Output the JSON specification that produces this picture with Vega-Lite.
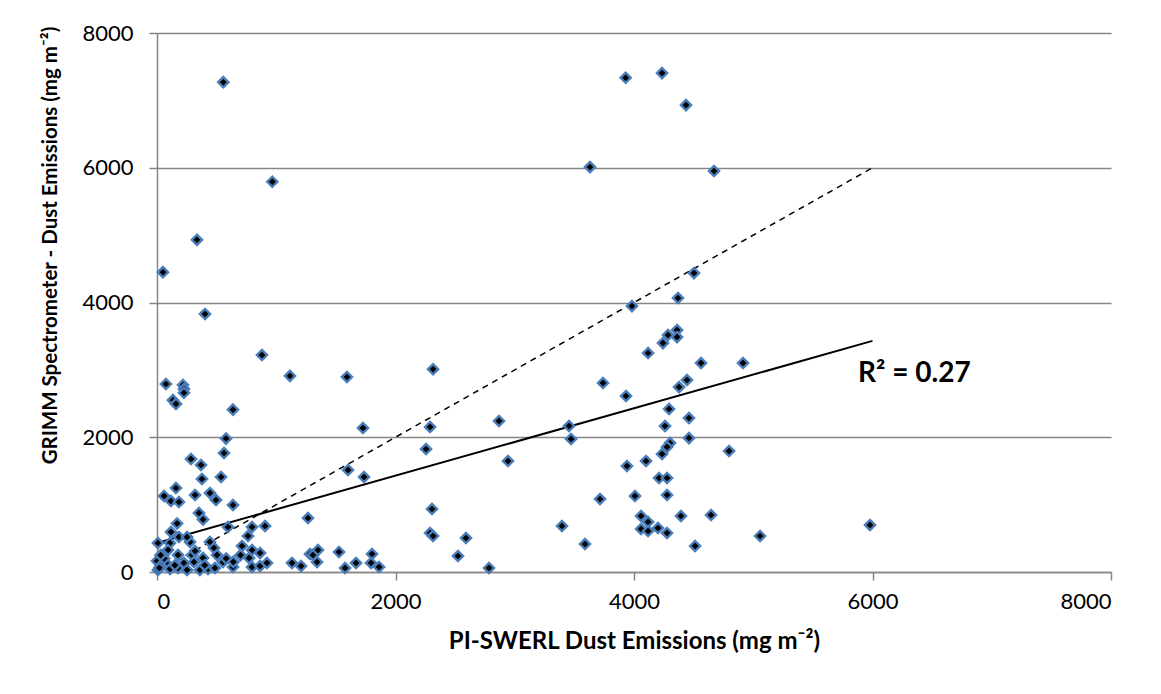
{
  "$schema": "https://vega.github.io/schema/vega-lite/v6.json",
  "width": 954,
  "height": 539,
  "autosize": {"type": "none"},
  "padding": {"left": 157, "top": 33, "right": 50, "bottom": 122},
  "background": "white",
  "config": {"view": {"stroke": null}, "font": "Lato"},
  "datasets": {
    "pts": [
      {"x": 556, "y": 7270}, {"x": 967, "y": 5792}, {"x": 335, "y": 4930}, {"x": 50, "y": 4450}, {"x": 403, "y": 3830},
      {"x": 880, "y": 3220}, {"x": 1115, "y": 2910}, {"x": 1593, "y": 2895}, {"x": 2315, "y": 3010},
      {"x": 3930, "y": 7335}, {"x": 4235, "y": 7405}, {"x": 4436, "y": 6930}, {"x": 3631, "y": 6010}, {"x": 4671, "y": 5951},
      {"x": 4503, "y": 4437}, {"x": 4369, "y": 4066}, {"x": 3983, "y": 3947},
      {"x": 4361, "y": 3591}, {"x": 4285, "y": 3517}, {"x": 4243, "y": 3398}, {"x": 4361, "y": 3487}, {"x": 4118, "y": 3250},
      {"x": 4562, "y": 3102}, {"x": 4914, "y": 3102}, {"x": 4444, "y": 2849}, {"x": 4378, "y": 2745},
      {"x": 3740, "y": 2805}, {"x": 3933, "y": 2612},
      {"x": 4294, "y": 2419}, {"x": 4260, "y": 2167}, {"x": 4461, "y": 2285}, {"x": 4461, "y": 1988},
      {"x": 4302, "y": 1914}, {"x": 4277, "y": 1855}, {"x": 4235, "y": 1751}, {"x": 4797, "y": 1796},
      {"x": 4101, "y": 1647}, {"x": 3941, "y": 1573}, {"x": 4210, "y": 1395}, {"x": 4277, "y": 1395},
      {"x": 4277, "y": 1143}, {"x": 4008, "y": 1128}, {"x": 3715, "y": 1083},
      {"x": 4059, "y": 831}, {"x": 4118, "y": 742}, {"x": 4394, "y": 831}, {"x": 4646, "y": 846},
      {"x": 4059, "y": 638}, {"x": 4118, "y": 608}, {"x": 4201, "y": 653}, {"x": 4277, "y": 579},
      {"x": 3396, "y": 682}, {"x": 3589, "y": 415}, {"x": 4512, "y": 386}, {"x": 5057, "y": 534}, {"x": 5979, "y": 697},
      {"x": 2524, "y": 237}, {"x": 2591, "y": 504}, {"x": 2784, "y": 59}, {"x": 2868, "y": 2241}, {"x": 2943, "y": 1647},
      {"x": 3455, "y": 2167}, {"x": 3472, "y": 1974},
      {"x": 2256, "y": 1825}, {"x": 2290, "y": 2152}, {"x": 2306, "y": 935}, {"x": 2290, "y": 579}, {"x": 2315, "y": 534},
      {"x": 1727, "y": 2137}, {"x": 1736, "y": 1410}, {"x": 1602, "y": 1514}, {"x": 1266, "y": 801},
      {"x": 1132, "y": 134}, {"x": 1208, "y": 89}, {"x": 1283, "y": 267}, {"x": 1308, "y": 252}, {"x": 1350, "y": 326},
      {"x": 1342, "y": 148}, {"x": 1526, "y": 297}, {"x": 1577, "y": 59}, {"x": 1669, "y": 134}, {"x": 1803, "y": 267},
      {"x": 1795, "y": 134}, {"x": 1862, "y": 74},
      {"x": 75, "y": 2790}, {"x": 218, "y": 2775}, {"x": 226, "y": 2715}, {"x": 226, "y": 2660}, {"x": 134, "y": 2550},
      {"x": 159, "y": 2495}, {"x": 637, "y": 2410}, {"x": 579, "y": 1980}, {"x": 562, "y": 1766}, {"x": 285, "y": 1677},
      {"x": 369, "y": 1588}, {"x": 377, "y": 1380}, {"x": 537, "y": 1410}, {"x": 159, "y": 1247}, {"x": 59, "y": 1128},
      {"x": 117, "y": 1054}, {"x": 184, "y": 1039}, {"x": 319, "y": 1143}, {"x": 444, "y": 1172}, {"x": 495, "y": 1068},
      {"x": 352, "y": 876}, {"x": 386, "y": 780}, {"x": 637, "y": 994}, {"x": 168, "y": 720}, {"x": 117, "y": 594},
      {"x": 8, "y": 430}, {"x": 595, "y": 668}, {"x": 797, "y": 668}, {"x": 906, "y": 682}, {"x": 763, "y": 534}, {"x": 713, "y": 386},
      {"x": 109, "y": 430}, {"x": 277, "y": 445}, {"x": 184, "y": 519}, {"x": 252, "y": 519}, {"x": 444, "y": 445},
      {"x": 478, "y": 356}, {"x": 92, "y": 326}, {"x": 50, "y": 252}, {"x": 176, "y": 252}, {"x": 294, "y": 252},
      {"x": 319, "y": 312}, {"x": 386, "y": 208}, {"x": 503, "y": 252}, {"x": 0, "y": 163}, {"x": 75, "y": 134},
      {"x": 226, "y": 134}, {"x": 310, "y": 148}, {"x": 553, "y": 148}, {"x": 637, "y": 74}, {"x": 797, "y": 326},
      {"x": 864, "y": 282}, {"x": 772, "y": 208}, {"x": 797, "y": 74}, {"x": 864, "y": 89}, {"x": 922, "y": 134},
      {"x": 8, "y": 30}, {"x": 109, "y": 45}, {"x": 176, "y": 59}, {"x": 252, "y": 30}, {"x": 360, "y": 30},
      {"x": 428, "y": 45}, {"x": 486, "y": 59}, {"x": 30, "y": 90}, {"x": 20, "y": 60}, {"x": 60, "y": 200},
      {"x": 150, "y": 100}, {"x": 400, "y": 100}, {"x": 580, "y": 200}, {"x": 640, "y": 150}, {"x": 700, "y": 250}, {"x": 30, "y": 250}
    ],
    "trend": [{"x": 0, "y": 430}, {"x": 6000, "y": 3430}],
    "oneone": [{"x": 0, "y": 0}, {"x": 6000, "y": 6000}]
  },
  "layer": [
    {
      "data": {"name": "oneone"},
      "mark": {"type": "line", "color": "black", "strokeDash": [6, 5], "strokeWidth": 1.5},
      "encoding": {
        "x": {"field": "x", "type": "quantitative", "scale": {"domain": [0, 8000], "nice": false},
          "axis": {"values": [0, 2000, 4000, 6000, 8000], "format": "d", "grid": false, "domainColor": "#868686", "domainWidth": 1.5, "tickColor": "#868686", "tickWidth": 1.5, "tickSize": 8,
            "labelFontSize": 22, "labelColor": "black", "labelPadding": 11, "title": "PI-SWERL Dust Emissions (mg m⁻²)",
            "titleFontSize": 24, "titleFontWeight": "bold", "titleColor": "black", "titlePadding": 17}},
        "y": {"field": "y", "type": "quantitative", "scale": {"domain": [0, 8000], "nice": false},
          "axis": {"values": [0, 2000, 4000, 6000, 8000], "format": "d", "grid": true, "gridColor": "#868686", "gridWidth": 1.5, "domainColor": "#868686", "domainWidth": 1.5, "tickColor": "#868686", "tickWidth": 1.5, "tickSize": 8,
            "labelFontSize": 22, "labelColor": "black", "labelPadding": 16, "title": "GRIMM Spectrometer - Dust Emissions (mg m⁻²)",
            "titleFontSize": 20.5, "titleFontWeight": "bold", "titleColor": "black", "titleX": -107, "titleY": 212, "titleAngle": -90, "titleAlign": "center", "titleBaseline": "middle"}}
      }
    },
    {
      "data": {"name": "trend"},
      "mark": {"type": "line", "color": "black", "strokeWidth": 2},
      "encoding": {
        "x": {"field": "x", "type": "quantitative"},
        "y": {"field": "y", "type": "quantitative"}
      }
    },
    {
      "data": {"name": "pts"},
      "mark": {"type": "point", "shape": "diamond", "filled": true, "fill": "black", "stroke": "#4a7ebb", "strokeWidth": 2.4, "size": 105, "opacity": 1},
      "encoding": {
        "x": {"field": "x", "type": "quantitative"},
        "y": {"field": "y", "type": "quantitative"}
      }
    },
    {
      "data": {"values": [{"label": "R² = 0.27"}]},
      "mark": {"type": "text", "fontWeight": "bold", "fontSize": 28, "align": "left", "baseline": "middle", "color": "black"},
      "encoding": {
        "x": {"datum": 5879},
        "y": {"datum": 2938},
        "text": {"field": "label"}
      }
    }
  ]
}
